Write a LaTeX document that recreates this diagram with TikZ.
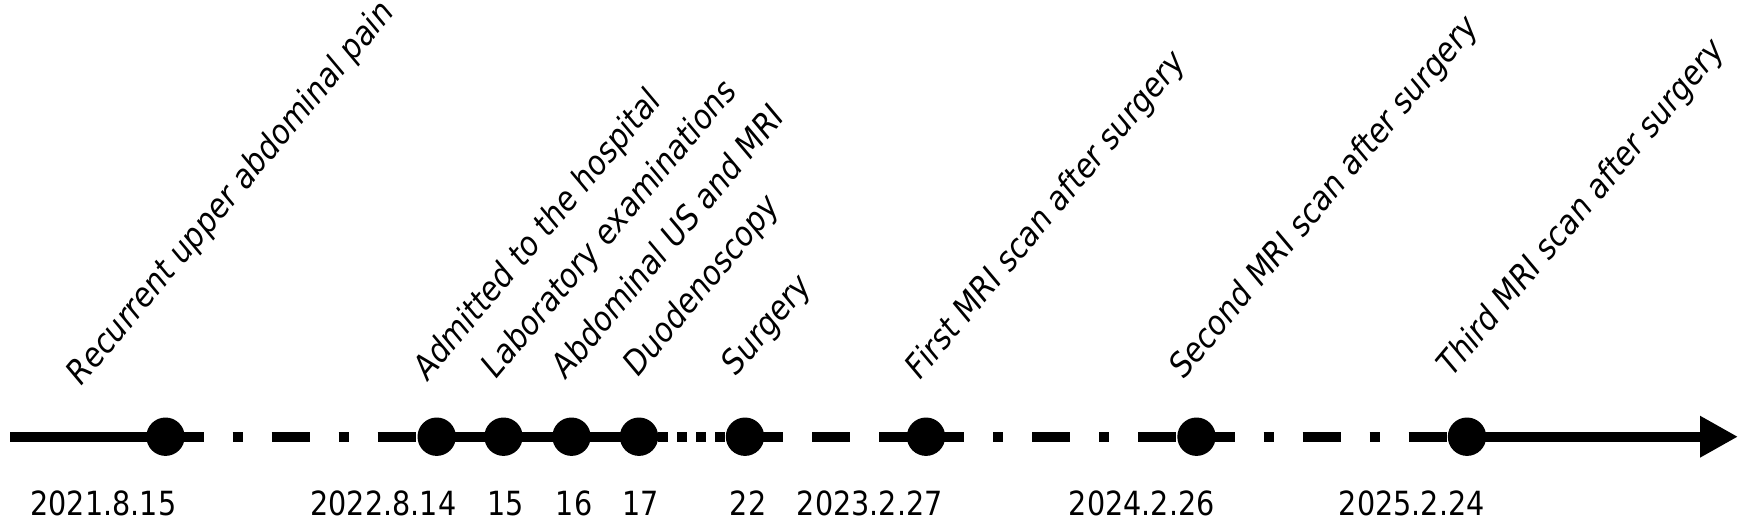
\documentclass[tikz,border=0pt]{standalone}
\usepackage{fontspec}
\setmainfont{DejaVu Sans}[FakeStretch=0.86]
\newfontfamily\labfont{DejaVu Sans}[FakeStretch=0.9]
\usetikzlibrary{arrows.meta}
\begin{document}
\begin{tikzpicture}[x=0.5pt,y=-0.5pt,
  axis/.style={line width=5pt},
  dashdot/.style={axis, dash pattern=on 19pt off 14.5pt on 5pt off 14.5pt},
  dashonly/.style={axis, dash pattern=on 19pt off 14.5pt},
  dotonly/.style={axis, dash pattern=on 4.75pt off 4.75pt},
  dotnode/.style={circle, fill=black, inner sep=0pt, minimum size=19.2pt},
  datelab/.style={anchor=base east, inner sep=0pt, font=\fontsize{16.65}{20}\selectfont},
  evlab/.style={anchor=base west, inner sep=0pt, rotate=50, font=\labfont\itshape\fontsize{16.65}{20}\selectfont}]
\useasboundingbox (0,0) rectangle (1760,531);
\coordinate (start) at (10,436.7);
\coordinate (tip) at (1738,436.7);
\coordinate (p1) at (165.5,436.7);
\coordinate (p2) at (436.7,436.7);
\coordinate (p3) at (503.5,436.7);
\coordinate (p4) at (571.5,436.7);
\coordinate (p5) at (639,436.7);
\coordinate (p6) at (745,436.7);
\coordinate (p7) at (926,436.7);
\coordinate (p8) at (1196.5,436.7);
\coordinate (p9) at (1467,436.7);
% axis segments
\draw[axis] (start) -- (p1);
\draw[dashdot] (p1) -- (p2);
\draw[axis] (p2) -- (p5);
\draw[dotonly] (p5) -- (p6);
\draw[dashonly] (p6) -- (p7);
\draw[dashdot] (p7) -- (p8);
\draw[dashdot] (p8) -- (p9);
\draw[axis, -{Triangle[length=19pt, width=19.5pt]}] (p9) -- (tip);
% dots
\foreach \i in {1,...,9} \node[dotnode] (d\i) at (p\i) {};
% dates
\node[datelab] (t1) at (176.7,515) {2021.8.15};
\node[datelab] (t2) at (456.7,515) {2022.8.14};
\node[datelab] (t3) at (524,515) {15};
\node[datelab] (t4) at (592.7,515) {16};
\node[datelab] (t5) at (659,515) {17};
\node[datelab] (t6) at (766.7,515) {22};
\node[datelab] (t7) at (943,515) {2023.2.27};
\node[datelab] (t8) at (1215,515) {2024.2.26};
\node[datelab] (t9) at (1485,515) {2025.2.24};
% events
\node[evlab] (e1) at (81.7,387) {Recurrent upper abdominal pain};
\node[evlab] (e2) at (428,382) {Admitted to the hospital};
\node[evlab] (e3) at (496.7,380) {Laboratory examinations};
\node[evlab] (e4) at (566.7,380) {Abdominal US and MRI};
\node[evlab] (e5) at (638,378) {Duodenoscopy};
\node[evlab] (e6) at (736.7,377) {Surgery};
\node[evlab] (e7) at (920,381) {First MRI scan after surgery};
\node[evlab] (e8) at (1184,380) {Second MRI scan after surgery};
\node[evlab] (e9) at (1452,378) {Third MRI scan after surgery};
\end{tikzpicture}
\end{document}
